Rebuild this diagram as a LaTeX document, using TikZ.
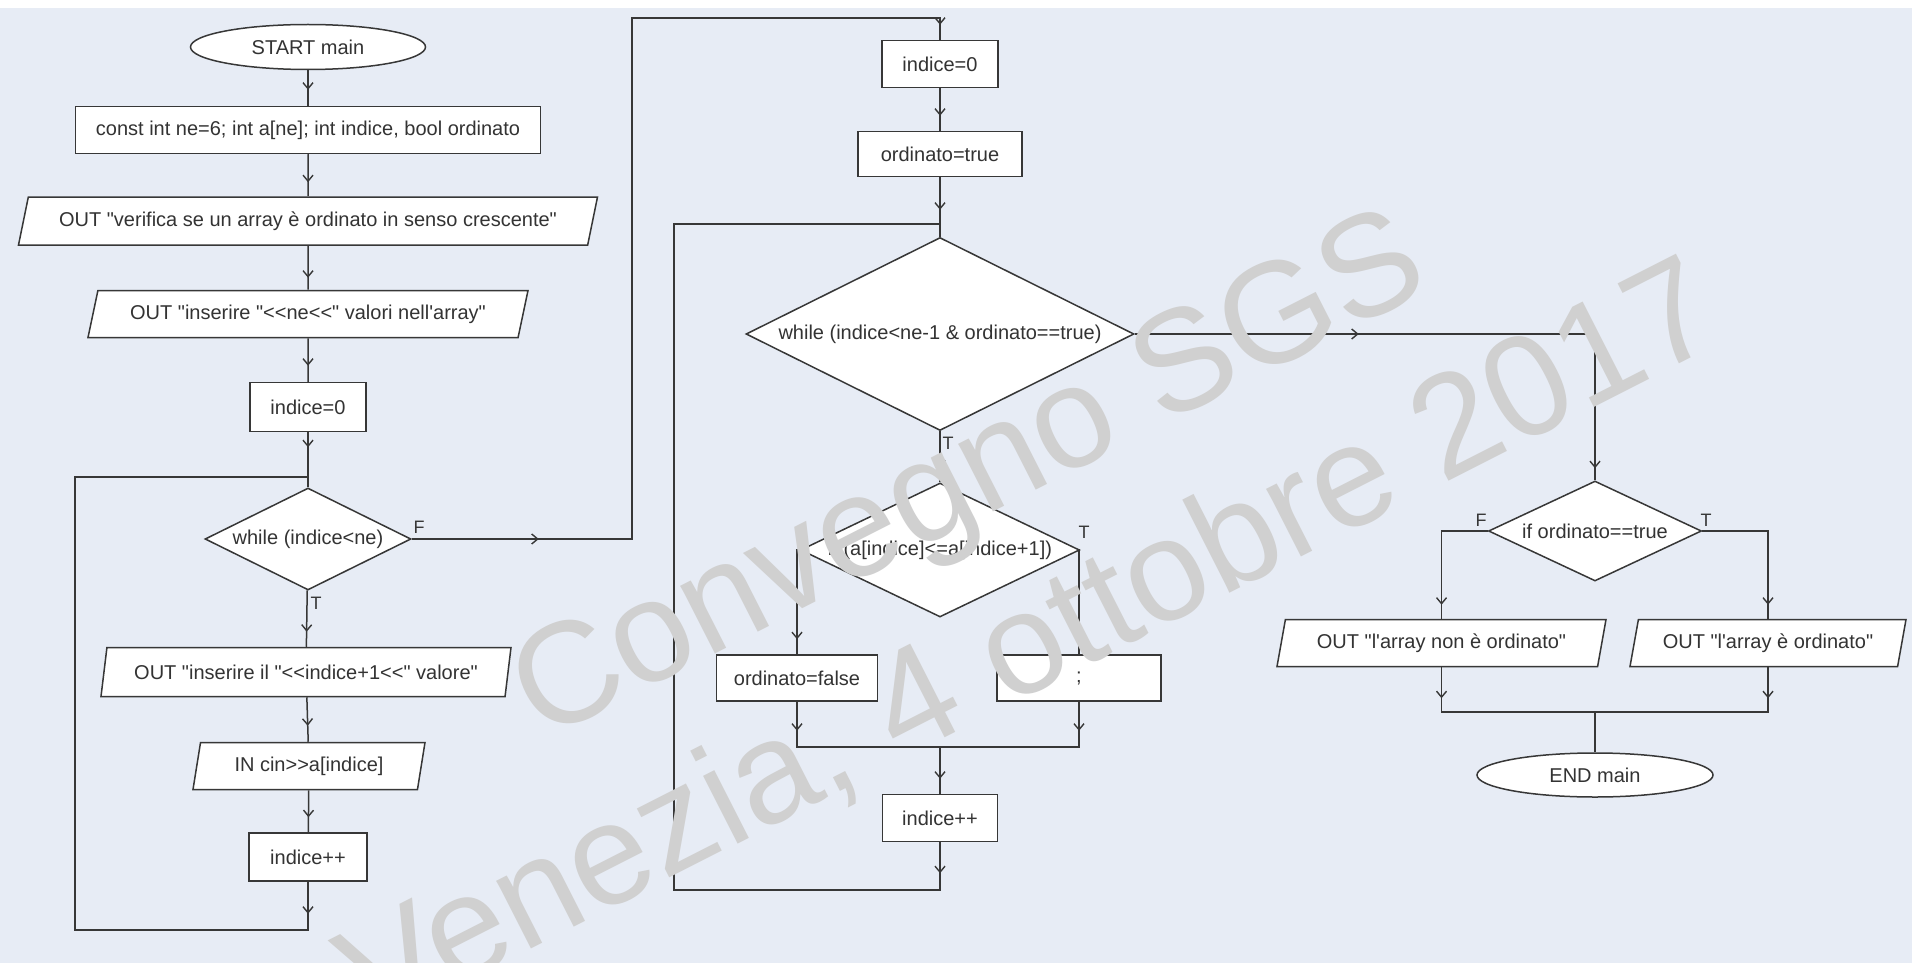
\documentclass[tikz,border=0pt]{standalone}
\usepackage{fontspec}
\setmainfont{Liberation Sans}[Ligatures=TeXOff]
\usetikzlibrary{shapes.geometric,decorations.markings,arrows.meta}
\definecolor{bgc}{RGB}{231,236,245}
\definecolor{linec}{RGB}{55,55,55}
\definecolor{wmc}{RGB}{208,208,208}
\tikzset{
  base/.style={draw=linec, fill=white, line width=0.75pt, inner sep=0pt, text=black!80, font=\fontsize{10}{12}\selectfont},
  io/.style 2 args={base, trapezium, trapezium stretches body, trapezium left angle=#1, trapezium right angle=#2},
  dec/.style={base, diamond, aspect=#1},
  term/.style={base, ellipse},
  flw/.style={draw=linec, line width=0.75pt},
  mtip/.style={postaction={decorate, decoration={markings, mark=at position #1 with {\arrow[linec, line width=0.7pt]{Straight Barb[length=3pt,width=5pt]}}}}},
  lab/.style={font=\fontsize{9}{10}\selectfont, text=linec, inner sep=0pt},
  wm/.style={text=wmc, font=\fontsize{72}{86}\selectfont, rotate=27, anchor=base west, inner sep=0pt}
}
\begin{document}
\begin{tikzpicture}[x=0.5pt,y=-0.5pt]
\useasboundingbox (0,0) rectangle (1912,963);
\fill[bgc] (0,0) rectangle (1912,963);
\fill[white] (0,0) rectangle (1912,8);

% left column
\node[term, minimum width=117.5pt, minimum height=22.5pt] (start) at (308,47) {START main};
\node[base, minimum width=232.5pt, minimum height=23.5pt] (decl) at (308,130) {const int ne=6; int a[ne]; int indice, bool ordinato};
\node[io={62.5}{117.5}, minimum width=289.5pt, minimum height=24pt] (out1) at (308,221) {OUT "verifica se un array è ordinato in senso crescente"};
\node[io={62}{118}, minimum width=220pt, minimum height=23.5pt] (out2) at (308,314) {OUT "inserire "<{}<ne<{}<" valori nell'array"};
\node[base, minimum width=58pt, minimum height=24.5pt] (idx0) at (308,407) {indice=0};
\node[dec=2.02, minimum width=103pt, minimum height=51pt] (while1) at (308,539) {while (indice<ne)};
\node[io={68}{112}, minimum width=205pt, minimum height=24.5pt] (out3) at (306,672) {OUT "inserire il "<{}<indice+1<{}<" valore"};
\node[io={68}{112}, minimum width=116pt, minimum height=23.5pt] (in1) at (309,766) {IN cin>{}>a[indice]};
\node[base, minimum width=59pt, minimum height=24pt] (inc1) at (308,857) {indice++};

% middle column
\node[base, minimum width=58pt, minimum height=23.5pt] (idx0b) at (940,64) {indice=0};
\node[base, minimum width=82pt, minimum height=22.5pt] (ordtrue) at (940,154) {ordinato=true};
\node[dec=2.01, minimum width=194pt, minimum height=96.5pt] (while2) at (940,334) {while (indice<ne-1 \& ordinato==true)};
\node[dec=2.08, minimum width=139.5pt, minimum height=67pt] (if1) at (940,550) {if (a[indice]<=a[indice+1])};
\node[base, minimum width=80.5pt, minimum height=23pt] (ordfalse) at (797,678) {ordinato=false};
\node[base, minimum width=82pt, minimum height=23pt] (empty) at (1079,678) {;};
\node[base, minimum width=57.5pt, minimum height=23.5pt] (inc2) at (940,818) {indice++};

% right column
\node[dec=2.13, minimum width=106.5pt, minimum height=50pt] (ifo) at (1595,531) {if ordinato==true};
\node[io={66}{114}, minimum width=164.5pt, minimum height=23.5pt] (outno) at (1441.5,643) {OUT "l'array non è ordinato"};
\node[io={66}{114}, minimum width=138pt, minimum height=23.5pt] (outsi) at (1768,643) {OUT "l'array è ordinato"};
\node[term, minimum width=118pt, minimum height=22pt] (endm) at (1595,775) {END main};

% coordinates
\coordinate (f1) at (632,18);
\coordinate (b1) at (308,930);
\coordinate (lc1) at (75,930);
\coordinate (j1) at (308,477);
\coordinate (j2) at (940,224);
\coordinate (lb2) at (940,890);
\coordinate (ll2) at (674,890);
\coordinate (jm) at (940,747);
\coordinate (jr) at (1595,712);

% connectors left
\draw[flw, mtip=-8pt] (start) -- (decl);
\draw[flw, mtip=-7pt] (decl) -- (out1);
\draw[flw, mtip=-6pt] (out1) -- (out2);
\draw[flw, mtip=-8pt] (out2) -- (idx0);
\draw[flw, mtip=-20pt] (idx0) -- (while1);
\draw[flw, mtip=-7.5pt] (while1) -- (out3);
\draw[flw, mtip=-8pt] (out3) -- (in1);
\draw[flw, mtip=-7.5pt] (in1) -- (inc1);
\draw[flw, mtip=16pt] (inc1.south) -- (b1) -- (lc1) |- (j1);
\draw[flw, mtip=63.5pt, mtip=-7.5pt] (while1.east) -| (f1) -| (idx0b.north);

% connectors middle
\draw[flw, mtip=-7.5pt] (idx0b) -- (ordtrue);
\draw[flw, mtip=-13.5pt] (ordtrue) -- (while2);
\draw[flw, mtip=-7.5pt] (while2) -- (if1);
\draw[flw, mtip=-7.5pt] (if1.west) -| (ordfalse.north);
\draw[flw, mtip=-7.5pt] (if1.east) -| (empty.north);
\draw[flw, mtip=14.5pt] (ordfalse.south) |- (jm);
\draw[flw, mtip=14.5pt] (empty.south) |- (jm);
\draw[flw, mtip=-7.5pt] (jm) -- (inc2);
\draw[flw, mtip=15.5pt] (inc2.south) -- (lb2) -- (ll2) |- (j2);

% connectors right
\draw[flw, mtip=112pt, mtip=-6pt] (while2.east) -| (ifo.north);
\draw[flw, mtip=-7pt] (ifo.west) -| (outno.north);
\draw[flw, mtip=-7pt] (ifo.east) -| (outsi.north);
\draw[flw, mtip=15.5pt] (outno.south) |- (jr);
\draw[flw, mtip=15.5pt] (outsi.south) |- (jr);
\draw[flw] (jr) -- (endm);

% labels
\node[lab] (lf1) at (419,527) {F};
\node[lab] (lt1) at (316,603) {T};
\node[lab] (lt2) at (948,443) {T};
\node[lab] (lt3) at (1084,532) {T};
\node[lab] (lf4) at (1481,520) {F};
\node[lab] (lt4) at (1706,520) {T};

% watermark
\node[wm] (wm1) at (542,742) {Convegno SGS};
\node[wm] (wm2) at (372,1030) {Venezia, 4 ottobre 2017};
\end{tikzpicture}
\end{document}
